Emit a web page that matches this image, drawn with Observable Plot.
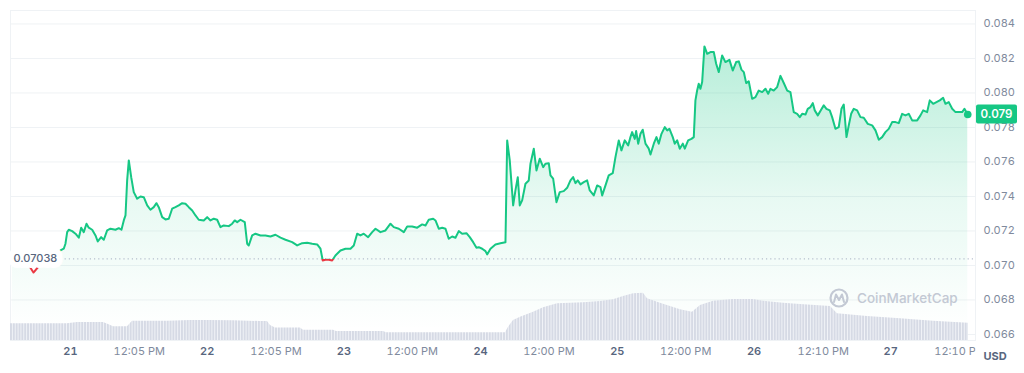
<!DOCTYPE html>
<html><head><meta charset="utf-8">
<script src="https://cdn.jsdelivr.net/npm/d3@7"></script>
<script src="https://cdn.jsdelivr.net/npm/@observablehq/plot@0.6"></script>
<style>
html,body{margin:0;padding:0;background:#fff;}
#wrap{position:relative;width:1024px;height:373px;font-family:Inter, sans-serif;}
#wrap svg{position:absolute;left:0;top:0;}
</style></head><body><div id="wrap"></div>
<script>
// ---- data (hours since Oct 21 00:00) ----
const priceHours = [
-10.2, -7.4, -6.5, -5.6, -3.5, -2.63, -2.33, -1.76, -1.18, -0.88,
-0.58, -0.30, 0.30, 0.88, 1.46, 1.88, 2.33, 2.81, 3.21, 3.81,
4.39, 4.79, 5.39, 5.85, 6.44, 7.02, 7.90, 8.48, 8.95, 9.36,
9.66, 9.95, 10.24, 10.66, 11.11, 11.71, 12.29, 12.87, 13.47, 14.04,
14.62, 15.10, 15.50, 16.10, 16.68, 17.26, 17.85, 18.43, 19.01, 19.61,
20.19, 20.77, 21.37, 21.95, 22.52, 23.40, 24.00, 24.58, 25.16, 25.75,
26.33, 26.91, 27.79, 28.39, 28.84, 29.27, 29.85, 30.60, 31.02, 31.30,
31.90, 32.48, 33.36, 34.23, 35.11, 35.99, 36.87, 37.75, 38.92, 39.80,
40.68, 41.56, 42.43, 43.31, 43.89, 44.29, 44.77, 45.35, 45.94, 46.52,
47.40, 48.28, 49.16, 49.74, 50.33, 50.91, 51.49, 52.26, 52.97, 53.55,
54.42, 55.30, 56.18, 56.76, 57.64, 58.52, 59.11, 59.99, 60.87, 61.75,
62.33, 62.90, 63.68, 64.08, 64.66, 65.26, 65.84, 66.41, 67.01, 67.59,
68.17, 68.77, 69.52, 70.10, 70.70, 71.28, 71.68, 72.28, 72.86, 73.15,
73.74, 74.61, 75.49, 76.37, 76.67, 77.12, 77.72, 78.12, 78.53, 78.88,
79.30, 79.88, 80.46, 80.76, 81.34, 81.81, 82.39, 82.99, 83.39, 83.97,
84.27, 84.74, 85.32, 85.90, 86.60, 87.20, 87.78, 88.25, 88.66, 89.06,
89.54, 90.12, 90.71, 91.17, 91.87, 92.47, 93.05, 93.35, 93.93, 94.50,
95.21, 95.68, 96.26, 96.73, 97.31, 97.91, 98.31, 98.61, 99.07, 99.31,
99.67, 100.07, 100.47, 100.95, 101.53, 101.83, 102.41, 102.88, 103.28, 103.76,
104.34, 104.76, 105.16, 105.74, 106.09, 106.51, 106.97, 107.50, 107.85, 108.44,
109.02, 109.43, 109.72, 110.02, 110.30, 110.60, 110.90, 111.30, 111.78, 112.36,
112.94, 113.36, 113.82, 114.41, 114.99, 115.69, 116.27, 116.87, 117.33, 117.80,
118.21, 118.63, 119.08, 119.68, 120.26, 120.84, 121.44, 122.02, 122.49, 122.89,
123.47, 124.07, 124.65, 125.23, 125.83, 126.40, 126.98, 127.58, 128.04, 128.46,
129.04, 129.44, 129.92, 130.32, 130.67, 131.20, 131.79, 132.25, 132.72, 133.30,
133.72, 134.30, 134.88, 135.36, 135.76, 136.24, 136.64, 137.06, 137.52, 138.11,
138.69, 139.27, 139.98, 140.75, 141.33, 141.91, 142.50, 143.08, 143.66, 144.26,
144.84, 145.42, 146.01, 146.59, 147.17, 147.77, 148.65, 149.23, 149.70, 150.40,
150.86, 151.46, 152.04, 152.62, 153.21, 153.62, 154.20, 154.80, 155.38, 155.95,
156.55, 156.95, 157.53
];
const priceValues = [
0.07038, 0.07006, 0.06959, 0.06994, 0.07029, 0.07048, 0.07068, 0.07087, 0.07097, 0.07126,
0.07193, 0.07207, 0.07199, 0.07184, 0.07161, 0.07219, 0.07193, 0.07242, 0.07219, 0.07207,
0.07174, 0.07139, 0.07164, 0.07149, 0.07203, 0.07213, 0.07207, 0.07216, 0.07207, 0.07261,
0.07290, 0.07493, 0.07609, 0.07512, 0.07425, 0.07387, 0.07400, 0.07396, 0.07348, 0.07323,
0.07338, 0.07361, 0.07338, 0.07280, 0.07267, 0.07271, 0.07329, 0.07338, 0.07348, 0.07361,
0.07358, 0.07338, 0.07319, 0.07290, 0.07265, 0.07261, 0.07280, 0.07261, 0.07271, 0.07265,
0.07222, 0.07232, 0.07228, 0.07242, 0.07261, 0.07251, 0.07265, 0.07251, 0.07126, 0.07116,
0.07174, 0.07184, 0.07174, 0.07174, 0.07168, 0.07178, 0.07161, 0.07149, 0.07135, 0.07116,
0.07129, 0.07132, 0.07126, 0.07122, 0.07097, 0.07029, 0.07033, 0.07033, 0.07029, 0.07058,
0.07087, 0.07097, 0.07097, 0.07116, 0.07184, 0.07174, 0.07184, 0.07164, 0.07193, 0.07213,
0.07193, 0.07203, 0.07242, 0.07222, 0.07213, 0.07193, 0.07226, 0.07226, 0.07219, 0.07238,
0.07232, 0.07265, 0.07271, 0.07261, 0.07213, 0.07219, 0.07213, 0.07155, 0.07168, 0.07161,
0.07199, 0.07184, 0.07187, 0.07164, 0.07135, 0.07103, 0.07106, 0.07097, 0.07083, 0.07064,
0.07097, 0.07122, 0.07129, 0.07135, 0.07725, 0.07609, 0.07348, 0.07435, 0.07512, 0.07348,
0.07377, 0.07474, 0.07493, 0.07590, 0.07677, 0.07551, 0.07619, 0.07570, 0.07590, 0.07593,
0.07522, 0.07503, 0.07367, 0.07425, 0.07431, 0.07450, 0.07493, 0.07512, 0.07477, 0.07493,
0.07470, 0.07483, 0.07493, 0.07435, 0.07406, 0.07464, 0.07454, 0.07406, 0.07464, 0.07522,
0.07535, 0.07628, 0.07725, 0.07667, 0.07725, 0.07696, 0.07744, 0.07773, 0.07734, 0.07779,
0.07706, 0.07763, 0.07787, 0.07706, 0.07677, 0.07643, 0.07706, 0.07744, 0.07706, 0.07763,
0.07802, 0.07783, 0.07792, 0.07744, 0.07706, 0.07725, 0.07677, 0.07706, 0.07677, 0.07725,
0.07734, 0.07744, 0.07957, 0.08014, 0.08053, 0.08024, 0.08063, 0.08270, 0.08227, 0.08237,
0.08237, 0.08169, 0.08121, 0.08217, 0.08179, 0.08192, 0.08130, 0.08179, 0.08183, 0.08135,
0.08121, 0.08057, 0.08068, 0.07966, 0.07976, 0.08014, 0.08005, 0.08024, 0.07995, 0.08024,
0.08014, 0.08034, 0.08099, 0.08058, 0.08014, 0.08005, 0.07889, 0.07879, 0.07860, 0.07879,
0.07875, 0.07908, 0.07918, 0.07941, 0.07899, 0.07870, 0.07903, 0.07928, 0.07908, 0.07899,
0.07860, 0.07792, 0.07802, 0.07908, 0.07933, 0.07744, 0.07812, 0.07879, 0.07908, 0.07899,
0.07860, 0.07856, 0.07821, 0.07812, 0.07783, 0.07729, 0.07744, 0.07773, 0.07792, 0.07831,
0.07831, 0.07825, 0.07879, 0.07870, 0.07879, 0.07841, 0.07841, 0.07870, 0.07899, 0.07889,
0.07957, 0.07937, 0.07947, 0.07957, 0.07972, 0.07937, 0.07947, 0.07908, 0.07889, 0.07889,
0.07889, 0.07908, 0.07875
];
const volumeHours = [
-10.53, -0.53, 1.23, 5.79, 6.67, 7.55, 10.01, 10.88, 17.03, 21.07,
24.05, 28.62, 33.36, 34.59, 35.11, 35.99, 40.38, 40.91, 46.17, 46.70,
54.95, 55.48, 76.37, 76.90, 77.77, 79.00, 81.29, 83.04, 85.50, 90.06,
93.05, 95.33, 97.09, 98.84, 100.60, 101.30, 103.58, 105.34, 107.09, 109.20,
110.60, 112.89, 116.40, 119.91, 121.67, 125.18, 128.16, 133.43, 134.66, 139.92,
145.72, 151.51, 157.65
];
const volumeValues = [
167, 167, 180, 180, 160, 137, 137, 193, 193, 200,
200, 197, 190, 190, 150, 125, 125, 103, 103, 90,
90, 77, 77, 133, 200, 233, 283, 327, 367, 377,
390, 407, 440, 467, 473, 417, 373, 340, 307, 283,
350, 393, 410, 410, 393, 373, 360, 340, 267, 240,
217, 193, 173
];
const openPrice = 0.07038;
const yTicks = [0.066, 0.068, 0.070, 0.072, 0.074, 0.076, 0.078, 0.080, 0.082, 0.084];
const yDomain = [0.06565, 0.08478];
const xDomainHours = [-10.53, 158.89];
const xTickHours = [0, 12.08, 24, 36.08, 48, 60, 72, 84, 96, 108, 120, 132.17, 144, 156.17];
const xTickLabels = ["21","12:05 PM","22","12:05 PM","23","12:00 PM","24","12:00 PM","25","12:00 PM","26","12:10 PM","27","12:10 PM"];
const currency = "USD";
const watermark = "CoinMarketCap";

// ---- build ----
const T0 = Date.UTC(2023, 9, 21);
const t = h => new Date(T0 + h * 3600000);
const price = priceHours.map((h, i) => ({date: t(h), price: priceValues[i]}));
const volume = volumeHours.map((h, i) => ({date: t(h), vol: volumeValues[i]}));
const last = price[price.length - 1];
const GREEN = "#16c784", RED = "#ea3943";
const labelOf = new Map(xTickHours.map((h, i) => [+t(h), xTickLabels[i]]));
const dayTicks = xTickHours.filter((h, i) => /^\d+$/.test(xTickLabels[i])).map(t);
const timeTicks = xTickHours.filter((h, i) => !/^\d+$/.test(xTickLabels[i])).map(t);

const common = {
  width: 1024, height: 373, marginLeft: 10, marginRight: 49, marginTop: 10, marginBottom: 33,
  style: {fontFamily: "Inter, sans-serif", fontSize: "11px", background: "transparent", overflow: "visible"}
};

const main = Plot.plot({
  ...common,
  x: {type: "utc", domain: xDomainHours.map(t), axis: null},
  y: {domain: yDomain, axis: null},
  marks: [
    Plot.frame({stroke: "#eff2f5"}),
    Plot.gridY(yTicks, {stroke: "#eff2f5", strokeOpacity: 1}),
    Plot.axisY(yTicks, {anchor: "right", tickSize: 0, tickPadding: 8, tickFormat: d3.format(".3f"), fill: "#808a9d", fontSize: 11, label: null}),
    Plot.axisX(dayTicks, {anchor: "bottom", tickSize: 0, tickPadding: 7, tickFormat: d => labelOf.get(+d), fill: "#58667e", fontWeight: 600, fontSize: 11, label: null}),
    Plot.axisX(timeTicks, {anchor: "bottom", tickSize: 0, tickPadding: 7, tickFormat: d => labelOf.get(+d), fill: "#808a9d", fontSize: 11, label: null}),
    Plot.areaY(price, {x: "date", y1: d => yDomain[0], y2: "price", fill: "url(#areaGrad)"}),
    Plot.ruleY([openPrice], {stroke: "#a6b0c3", strokeDasharray: "1.2,3"}),
    Plot.line(price, {x: "date", y: "price", stroke: "url(#lineGrad)", strokeWidth: 2}),
    Plot.text([openPrice], {frameAnchor: "left", y: d => d, text: d => d.toFixed(5), dx: 3, textAnchor: "start", fill: "#58667e", stroke: "white", strokeWidth: 12, fontSize: 11, fontWeight: 500}),
    Plot.dot([last], {x: "date", y: "price", r: 3.8, fill: GREEN}),
    Plot.text([currency], {frameAnchor: "bottom-right", text: d => d, dx: 8, dy: 19, textAnchor: "start", fill: "#58667e", fontWeight: 700, fontSize: 11})
  ]
});

const vol = Plot.plot({
  ...common,
  x: {type: "utc", domain: xDomainHours.map(t), axis: null},
  y: {domain: [0, 1000], range: [340, 240], axis: null},
  marks: [
    Plot.areaY(volume, {x: "date", y: "vol", fill: "url(#volStripes)"})
  ]
});

const wrap = document.getElementById("wrap");
wrap.appendChild(main);
wrap.appendChild(vol);

// gradients, tag, clipping
const ys = main.scale("y");
const yOpen = ys.apply(openPrice);
const ms = d3.select(main);
const defs = ms.insert("defs", ":first-child");
const ag = defs.append("linearGradient").attr("id", "areaGrad").attr("gradientUnits", "userSpaceOnUse")
  .attr("x1", 0).attr("x2", 0).attr("y1", 40).attr("y2", 330);
ag.append("stop").attr("offset", 0).attr("stop-color", GREEN).attr("stop-opacity", 0.32);
ag.append("stop").attr("offset", 0.55).attr("stop-color", GREEN).attr("stop-opacity", 0.10);
ag.append("stop").attr("offset", 1).attr("stop-color", GREEN).attr("stop-opacity", 0.0);
const lg = defs.append("linearGradient").attr("id", "lineGrad").attr("gradientUnits", "userSpaceOnUse")
  .attr("x1", 0).attr("x2", 0).attr("y1", 0).attr("y2", 373);
lg.append("stop").attr("offset", yOpen / 373).attr("stop-color", GREEN);
lg.append("stop").attr("offset", yOpen / 373).attr("stop-color", RED);
defs.append("clipPath").attr("id", "axisClip").append("rect").attr("x", 0).attr("y", 0).attr("width", 975).attr("height", 373);
ms.selectAll('g[aria-label="x-axis tick label"]').attr("clip-path", "url(#axisClip)");

const yLast = ys.apply(last.price);
const tag = ms.append("g");
tag.append("rect").attr("x", 976).attr("y", yLast - 9.5).attr("width", 41).attr("height", 19).attr("rx", 2).attr("fill", GREEN);
tag.append("text").attr("x", 996.5).attr("y", yLast).attr("dy", "0.35em").attr("text-anchor", "middle")
  .attr("fill", "white").attr("font-weight", 600).attr("font-size", 11.5).attr("font-family", "Inter, sans-serif")
  .text(d3.format(".3f")(last.price));

const vs = d3.select(vol);
const vdefs = vs.insert("defs", ":first-child");
const pat = vdefs.append("pattern").attr("id", "volStripes").attr("patternUnits", "userSpaceOnUse")
  .attr("x", 10).attr("y", 0).attr("width", 2.85).attr("height", 10);
pat.append("rect").attr("x", 0).attr("y", 0).attr("width", 1.9).attr("height", 10).attr("fill", "#d6dae5");
pat.append("rect").attr("x", 1.9).attr("y", 0).attr("width", 0.95).attr("height", 10).attr("fill", "#f1f3f7");

// watermark
const wm = vs.append("g");
wm.append("circle").attr("cx", 839).attr("cy", 298).attr("r", 8.5).attr("fill", "none").attr("stroke", "#c3c9d4").attr("stroke-width", 2.2);
wm.append("path").attr("d", "M834,302 L836,294.5 L839,300 L842,294.5 L844,302").attr("fill", "none").attr("stroke", "#c3c9d4").attr("stroke-width", 2).attr("stroke-linejoin", "round").attr("stroke-linecap", "round");
wm.append("text").attr("x", 857).attr("y", 298).attr("dy", "0.35em").attr("text-anchor", "start").attr("fill", "#c3c9d4").attr("font-size", 13.5).attr("font-weight", 500)
  .attr("font-family", "Inter, sans-serif").text(watermark);
</script></body></html>
